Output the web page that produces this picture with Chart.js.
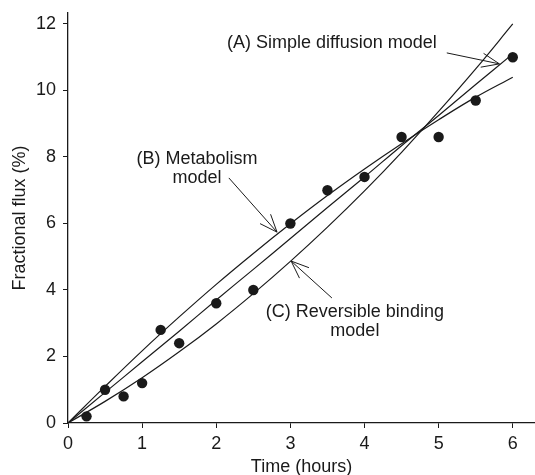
<!DOCTYPE html>
<html>
<head>
<meta charset="utf-8">
<script src="https://cdn.jsdelivr.net/npm/chart.js@4/dist/chart.umd.min.js"></script>
<style>
  html, body { margin: 0; padding: 0; background: #fff; overflow: hidden; }
  #wrap { width: 535px; height: 475px; }
</style>
</head>
<body>
<div id="wrap"><canvas id="chart"></canvas></div>
<script>
// measured points
const timeHours = [0.25, 0.5, 0.75, 1, 1.25, 1.5, 2, 2.5, 3, 3.5, 4, 4.5, 5, 5.5, 6];
const fluxObserved = [0.2, 1.0, 0.8, 1.2, 2.8, 2.4, 3.6, 4.0, 6.0, 7.0, 7.4, 8.6, 8.6, 9.7, 11.0];

// model curves
const curveTime = [0, 0.5, 1, 1.5, 2, 2.5, 3, 3.5, 4, 4.5, 5, 5.5, 6];
const diffusionModel = [0, 0.92, 1.84, 2.76, 3.7, 4.62, 5.55, 6.48, 7.4, 8.34, 9.25, 10.18, 11.1];
const metabolismModel = [0, 1.1, 2.17, 3.19, 4.17, 5.1, 5.99, 6.84, 7.64, 8.4, 9.12, 9.8, 10.4];
const bindingModel = [0, 0.65, 1.36, 2.14, 2.98, 3.89, 4.86, 5.89, 6.98, 8.14, 9.37, 10.65, 12.0];

const xTicks = [0, 1, 2, 3, 4, 5, 6];
const yTicks = [0, 2, 4, 6, 8, 10, 12];

const toPoints = (xs, ys) => xs.map((x, i) => ({ x: x, y: ys[i] }));

const ink = '#1a1a1a';
const fontFamily = '"Liberation Sans", Arial, Helvetica, sans-serif';

// labels with leader arrows (data coordinates)
const notes = [
  { lines: ['(A) Simple diffusion model'], at: [3.56, 11.43], from: [5.11, 11.13], tip: [5.82, 10.8] },
  { lines: ['(B) Metabolism', 'model'], at: [1.74, 7.94], from: [2.17, 7.37], tip: [2.82, 5.74] },
  { lines: ['(C) Reversible binding', 'model'], at: [3.87, 3.34], from: [3.56, 3.76], tip: [3.01, 4.87] },
];

const notesPlugin = {
  id: 'notes',
  afterDatasetsDraw(chart) {
    const ctx = chart.ctx;
    const xs = chart.scales.x;
    const ys = chart.scales.y;
    ctx.save();
    ctx.fillStyle = ink;
    ctx.strokeStyle = ink;
    ctx.lineWidth = 1;
    ctx.font = '18px ' + fontFamily;
    ctx.textAlign = 'center';
    ctx.textBaseline = 'middle';
    notes.forEach((n) => {
      const tx = xs.getPixelForValue(n.at[0]);
      const ty = ys.getPixelForValue(n.at[1]);
      n.lines.forEach((line, i) => ctx.fillText(line, tx, ty + i * 19));

      const fx = xs.getPixelForValue(n.from[0]);
      const fy = ys.getPixelForValue(n.from[1]);
      const px = xs.getPixelForValue(n.tip[0]);
      const py = ys.getPixelForValue(n.tip[1]);
      ctx.beginPath();
      ctx.moveTo(fx, fy);
      ctx.lineTo(px, py);
      // open arrow head
      const ang = Math.atan2(fy - py, fx - px);
      [-0.38, 0.38].forEach((d) => {
        ctx.moveTo(px, py);
        ctx.lineTo(px + 19 * Math.cos(ang + d), py + 19 * Math.sin(ang + d));
      });
      ctx.stroke();
    });
    ctx.restore();
  },
};

const curveStyle = {
  type: 'line',
  borderColor: ink,
  borderWidth: 1.2,
  pointRadius: 0,
  fill: false,
  tension: 0.4,
};

new Chart(document.getElementById('chart').getContext('2d'), {
  type: 'scatter',
  data: {
    datasets: [
      { ...curveStyle, label: '(A) Simple diffusion model', data: toPoints(curveTime, diffusionModel) },
      { ...curveStyle, label: '(B) Metabolism model', data: toPoints(curveTime, metabolismModel) },
      { ...curveStyle, label: '(C) Reversible binding model', data: toPoints(curveTime, bindingModel) },
      {
        label: 'Observed',
        data: toPoints(timeHours, fluxObserved),
        pointRadius: 5.2,
        pointBackgroundColor: ink,
        pointBorderWidth: 0,
        showLine: false,
      },
    ],
  },
  options: {
    responsive: true,
    maintainAspectRatio: false,
    animation: false,
    layout: { autoPadding: false, padding: { top: 13, right: 0, left: 0, bottom: 0 } },
    plugins: {
      legend: { display: false },
      tooltip: { enabled: false },
    },
    scales: {
      x: {
        type: 'linear',
        min: 0,
        max: 6.3,
        afterBuildTicks: (axis) => { axis.ticks = xTicks.map((v) => ({ value: v })); },
        afterFit: (axis) => {
          axis.height = 52;
          axis.paddingLeft = 0;
          axis.paddingRight = 0;
        },
        grid: { drawOnChartArea: false, drawTicks: true, tickLength: 5, color: ink },
        border: { display: true, color: ink, width: 1.3 },
        ticks: { color: ink, font: { size: 18, family: fontFamily }, padding: 5 },
        title: {
          display: true,
          text: 'Time (hours)',
          color: ink,
          font: { size: 18, family: fontFamily },
          padding: { top: 2, bottom: -3 },
        },
      },
      y: {
        type: 'linear',
        min: 0,
        max: 12.33,
        afterBuildTicks: (axis) => { axis.ticks = yTicks.map((v) => ({ value: v })); },
        afterFit: (axis) => {
          axis.width = 68;
          axis.paddingTop = 0;
          axis.paddingBottom = 0;
        },
        grid: { drawOnChartArea: false, drawTicks: true, tickLength: 5, color: ink },
        border: { display: true, color: ink, width: 1.3 },
        ticks: { color: ink, font: { size: 18, family: fontFamily }, padding: 7 },
        title: {
          display: true,
          text: 'Fractional flux (%)',
          color: ink,
          font: { size: 18, family: fontFamily },
          padding: { top: 9, bottom: 0 },
        },
      },
    },
  },
  plugins: [notesPlugin],
});
</script>
</body>
</html>
